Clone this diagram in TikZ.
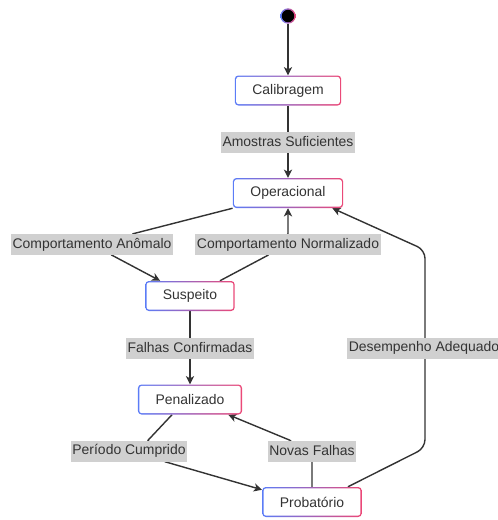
\documentclass[tikz,border=0pt]{standalone}
\usepackage{fontspec}
\setmainfont{Liberation Sans}
\usetikzlibrary{arrows.meta,backgrounds,calc}
\definecolor{mmblue}{HTML}{5B7CF7}
\definecolor{mmpink}{HTML}{EC4877}
\definecolor{txtgray}{HTML}{333333}
\definecolor{lblgray}{HTML}{D0D0D0}
\definecolor{edgegray}{HTML}{333333}
\begin{document}
\begin{tikzpicture}[x=0.03cm,y=-0.03cm,
    font=\fontsize{11.9}{14}\selectfont,
    state/.style={rectangle, rounded corners=3pt, minimum height=0.9cm, inner xsep=15pt, text=txtgray,
        path picture={
            \shade[left color=mmblue,right color=mmpink] (path picture bounding box.south west) rectangle (path picture bounding box.north east);
            \fill[white,rounded corners=2pt] ([shift={(1.2pt,1.2pt)}]path picture bounding box.south west) rectangle ([shift={(-1.2pt,-1.2pt)}]path picture bounding box.north east);
        }},
    startdot/.style={circle, minimum size=0.46cm, inner sep=0,
        path picture={
            \shade[left color=mmblue,right color=mmpink] (path picture bounding box.south west) rectangle (path picture bounding box.north east);
            \fill[black] (path picture bounding box.center) circle (5.3pt);
        }},
    lbl/.style={fill=lblgray, text=txtgray, inner xsep=1.5pt, inner ysep=0pt, minimum height=0.63cm},
    edge/.style={draw=edgegray, line width=1.2pt},
    arr/.style={-{Stealth[length=7pt,width=7pt,inset=2pt]}}]
\useasboundingbox (0,0) rectangle (498,520);

%states
\node[startdot] (start) at (288,16) {};
\foreach \n/\t/\x/\y in {cal/Calibragem/288/90.5, op/Operacional/288/193, sus/Suspeito/190/296, pen/Penalizado/190/399.5, prob/Probatório/312/502}{
    \node[state] (\n) at (\x,\y) {\t};
}

%labels
\foreach \n/\t/\x/\y in {lam/Amostras Suficientes/288/142, lan/Comportamento Anômalo/92/244.5, lno/Comportamento Normalizado/288/244.5, lfc/Falhas Confirmadas/190/348, lde/Desempenho Adequado/424/348, lpc/Período Cumprido/129/451, lnf/Novas Falhas/312/451}{
    \node[lbl] (\n) at (\x,\y) {\t};
}

%edges
\begin{scope}[on background layer]
\draw[edge,arr] (start) -- (cal);
\draw[edge,arr] (cal) -- (op);
\draw[edge,arr] (op.south west) -- ($(lan.north)+(41,0)$) -- ($(lan.south)+(20,0)$) -- ($(sus.north west)+(15,0)$);
\draw[edge,arr] ($(sus.north east)+(-15,0)$) -- ($(lno.south)+(-20,0)$) -- (lno.north) -- (op.south);
\draw[edge,arr] (sus) -- (pen);
\draw[edge,arr] ($(pen.south)+(-18,0)$) -- ($(lpc.north)+(19,0)$) -- ($(lpc.south)+(36,0)$) -- ($(prob.north west)+(0,3)$);
\draw[edge,arr] (prob.north) -- (lnf.south) -- ($(lnf.north)+(-22,0)$) -- ($(pen.south east)+(-14,0)$);
\draw[edge,arr,rounded corners=0.25cm] ($(prob.north east)+(-14,0)$) -- (425,448) -- (425,250) -- ($(op.south east)+(-11,0)$);
\end{scope}
\end{tikzpicture}
\end{document}
